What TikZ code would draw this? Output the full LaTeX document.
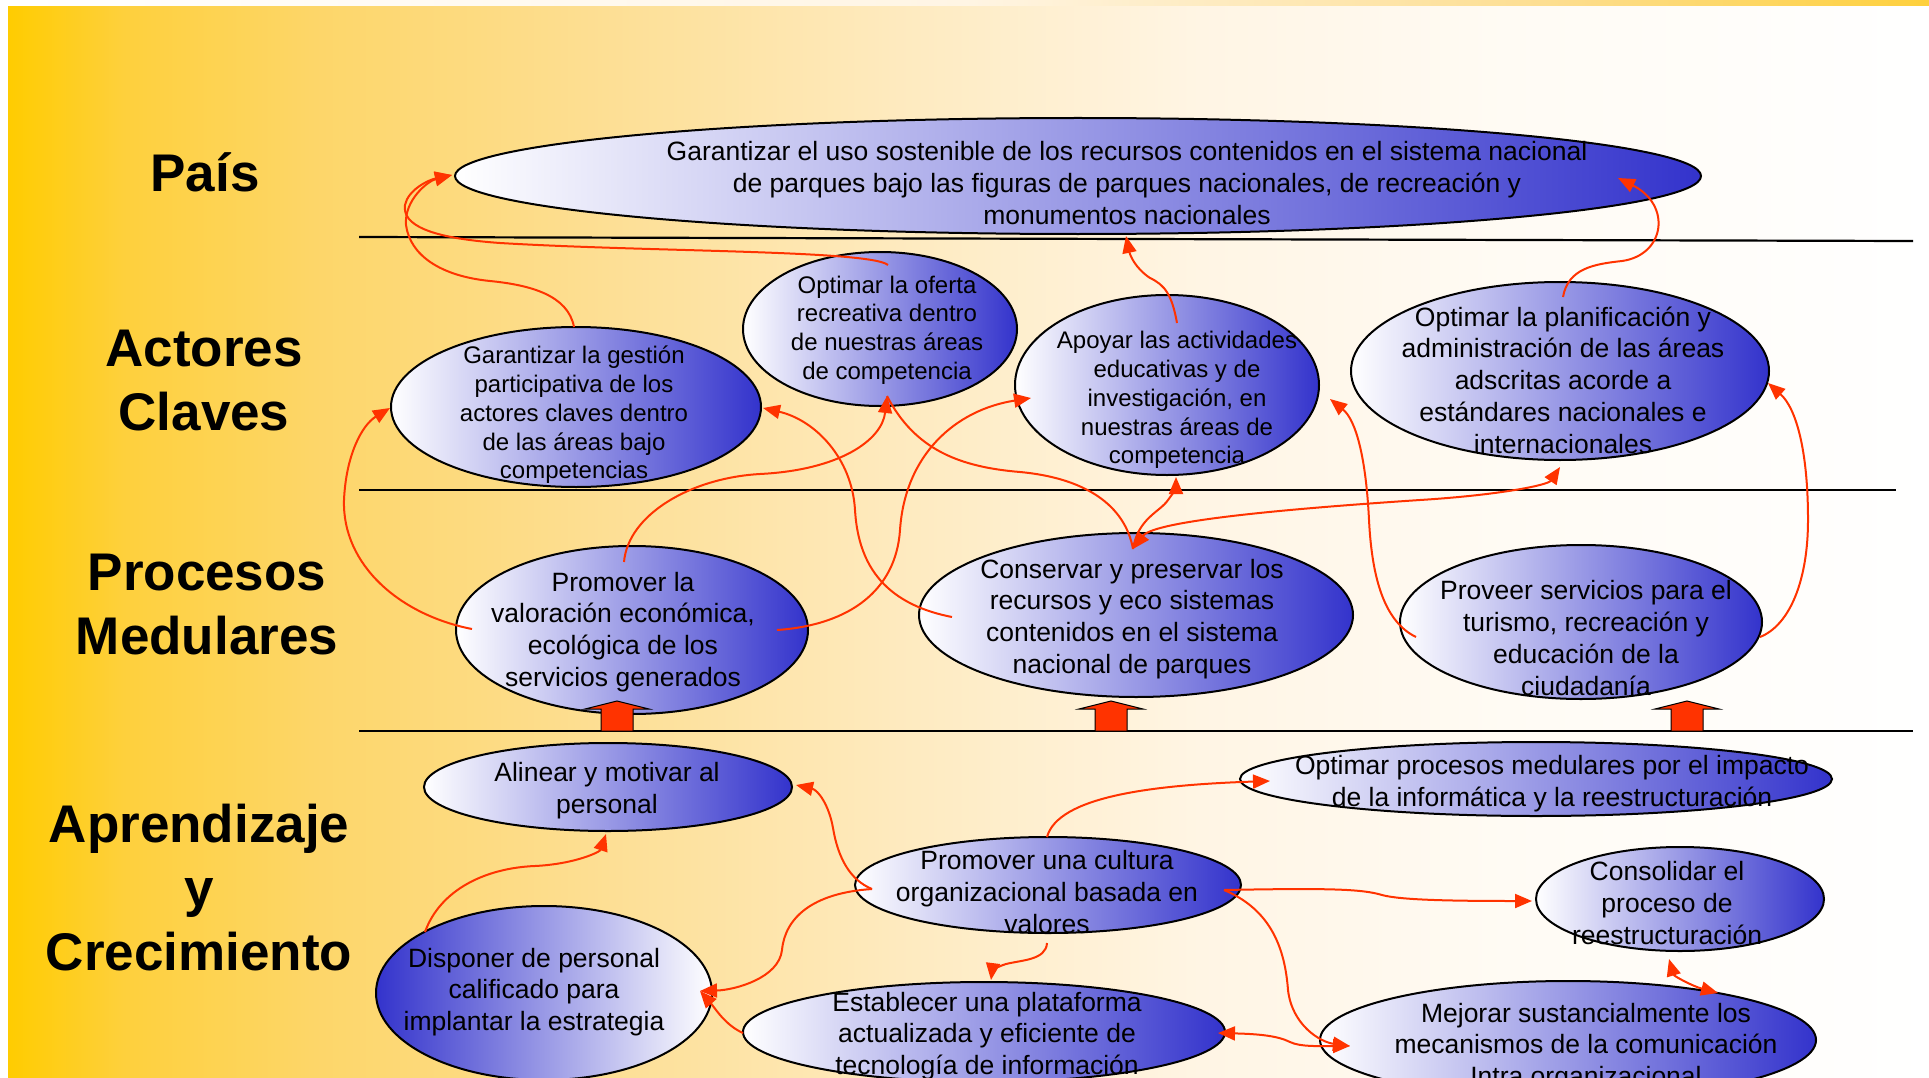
\documentclass[tikz,border=0pt]{standalone}
\usepackage{fontspec}
\setmainfont{Liberation Sans}
\usetikzlibrary{shapes.geometric,arrows.meta}

\definecolor{ellblue}{RGB}{51,51,204}
\definecolor{linkred}{RGB}{255,51,0}
\definecolor{bgA}{RGB}{255,204,0}
\definecolor{bgB}{RGB}{254,208,60}
\definecolor{bgC}{RGB}{253,214,105}
\definecolor{bgD}{RGB}{253,222,145}
\definecolor{bgE}{RGB}{254,234,190}
\definecolor{bgF}{RGB}{255,245,228}
\definecolor{bgG}{RGB}{255,251,244}

% page background: gold on the left fading to white on the right
\pgfdeclarehorizontalshading{bgfade}{100bp}{color(0bp)=(bgA); color(25bp)=(bgA);
  color(28bp)=(bgB); color(33bp)=(bgC); color(40bp)=(bgD); color(48bp)=(bgE);
  color(56bp)=(bgF); color(64bp)=(bgG); color(75bp)=(white); color(100bp)=(white)}
% thin band along the top edge, running the other way
\pgfdeclarehorizontalshading{topfade}{100bp}{color(0bp)=(white); color(25bp)=(white);
  color(50bp)=(bgF); color(65bp)=(bgD); color(75bp)=(bgB); color(100bp)=(bgB)}

\tikzset{
  goal/.style={ellipse, draw=black, line width=2pt, inner sep=0pt,
    left color=white, right color=ellblue},
  goalrev/.style={goal, left color=ellblue, right color=white},
  txt/.style={align=center, inner sep=0pt, font=\fontsize{26.5}{31.8}\selectfont},
  txts/.style={align=center, inner sep=0pt, font=\fontsize{24}{28.8}\selectfont},
  lane/.style={align=center, inner sep=0pt, font=\fontsize{53}{64}\selectfont\bfseries},
  divider/.style={draw=black, line width=2.2pt},
  link/.style={draw=linkred, line width=2pt, -{Triangle[length=17pt,width=14pt]}},
  linkboth/.style={draw=linkred, line width=2pt,
    {Triangle[length=17pt,width=14pt]}-{Triangle[length=17pt,width=14pt]}},
  linkplain/.style={draw=linkred, line width=2pt},
  pushup/.pic={
    \filldraw[fill=linkred, draw=black, line width=1pt]
      (-16,0) -- (-16,-22) -- (-32,-22) -- (0,-30) -- (32,-22) -- (16,-22) -- (16,0) -- cycle;
  }
}

\begin{document}
\begin{tikzpicture}[x=1pt,y=-1pt]
\useasboundingbox (0,0) rectangle (1929,1078);
\fill[white] (0,0) rectangle (1929,1078);
\shade[shading=bgfade] (8,6) rectangle (1929,1078);
\shade[shading=topfade] (0,0) rectangle (1929,6);

% lane dividers
\draw[divider] (359,237) -- (1913,241);
\draw[divider] (359,490) -- (1896,490);
\draw[divider] (359,731) -- (1913,731);

% lane titles
\node[lane] (lpais) at (205,172) {País};
\node[lane] (lactores) at (204,381) {Actores\\Claves};
\node[lane] (lprocesos) at (207,605) {Procesos\\Medulares};
\node[lane] (laprend) at (199,888) {Aprendizaje\\y\\Crecimiento};

% objectives
\node[goal, minimum width=1246, minimum height=116] (pais) at (1078,176) {};
\node[goal, minimum width=370, minimum height=160] (gest) at (576,407) {};
\node[goal, minimum width=274, minimum height=154] (ofer) at (880,329) {};
\node[goal, minimum width=304, minimum height=180] (apoy) at (1167,385) {};
\node[goal, minimum width=418, minimum height=178] (plan) at (1560,371) {};
\node[goal, minimum width=352, minimum height=168] (valo) at (632,630) {};
\node[goal, minimum width=434, minimum height=164] (cons) at (1136,615) {};
\node[goal, minimum width=362, minimum height=154] (prov) at (1581,622) {};
\node[goal, minimum width=368, minimum height=88] (alin) at (608,787) {};
\node[goalrev, minimum width=336, minimum height=174] (disp) at (544,993) {};
\node[goal, minimum width=386, minimum height=96] (cult) at (1048,885) {};
\node[goal, minimum width=592, minimum height=74] (optp) at (1536,779) {};
\node[goal, minimum width=288, minimum height=104] (conso) at (1680,899) {};
\node[goal, minimum width=482, minimum height=100] (esta) at (984,1032) {};
\node[goal, minimum width=496, minimum height=118] (mejo) at (1568,1040) {};

% push-up arrows from the learning lane
\pic at (617,731) {pushup};
\pic at (1111,731) {pushup};
\pic at (1687,731) {pushup};

% objective texts
\node[txt] (paisT) at (1127,183) {Garantizar el uso sostenible de los recursos contenidos en el sistema nacional\\de parques bajo las figuras de parques nacionales, de recreación y\\monumentos nacionales};
\node[txts] (gestT) at (574,415) {Garantizar la gestión\\participativa de los\\actores claves dentro\\de las áreas bajo\\competencias};
\node[txts] (oferT) at (887,330) {Optimar la oferta\\recreativa dentro\\de nuestras áreas\\de competencia};
\node[txts] (apoyT) at (1177,400) {Apoyar las actividades\\educativas y de\\investigación, en\\nuestras áreas de\\competencia};
\node[txt] (planT) at (1563,380) {Optimar la planificación y\\administración de las áreas\\adscritas acorde a\\estándares nacionales e\\internacionales};
\node[txt] (valoT) at (623,632) {Promover la\\valoración económica,\\ecológica de los\\servicios generados};
\node[txt] (consT) at (1132,619) {Conservar y preservar los\\recursos y eco sistemas\\contenidos en el sistema\\nacional de parques};
\node[txt] (provT) at (1586,638) {Proveer servicios para el\\turismo, recreación y\\educación de la\\ciudadanía};
\node[txt] (alinT) at (607,791) {Alinear y motivar al\\personal};
\node[txt] (dispT) at (534,992) {Disponer de personal\\calificado para\\implantar la estrategia};
\node[txt] (cultT) at (1047,892) {Promover una cultura\\organizacional basada en\\valores};
\node[txt] (optpT) at (1552,784) {Optimar procesos medulares por el impacto\\de la informática y la reestructuración};
\node[txt] (consoT) at (1667,903) {Consolidar el\\proceso de\\reestructuración};
\node[txt] (estaT) at (987,1036) {Establecer una plataforma\\actualizada y eficiente de\\tecnología de información};
\node[txt] (mejoT) at (1586,1047) {Mejorar sustancialmente los\\mecanismos de la comunicación\\Intra organizacional};

% connector end points
\coordinate (paisW) at (452,175);
\coordinate (paisS) at (1126,236);
\coordinate (paisE) at (1618,178);
\coordinate (gestN) at (574,327);
\coordinate (gestW) at (390,408);
\coordinate (gestE) at (763,408);
\coordinate (oferN) at (888,265);
\coordinate (oferS) at (887,396);
\coordinate (apoyN) at (1177,323);
\coordinate (apoyW) at (1031,398);
\coordinate (apoyE) at (1330,399);
\coordinate (apoyS) at (1176,477);
\coordinate (planN) at (1563,297);
\coordinate (planS) at (1560,467);
\coordinate (planE) at (1768,383);
\coordinate (valoW) at (472,629);
\coordinate (valoN) at (624,562);
\coordinate (valoE) at (777,630);
\coordinate (consW) at (952,617);
\coordinate (consN) at (1133,549);
\coordinate (provW) at (1416,637);
\coordinate (provE) at (1760,637);
\coordinate (alinS) at (606,834);
\coordinate (alinE) at (796,785);
\coordinate (dispN) at (425,932);
\coordinate (dispE) at (700,991);
\coordinate (cultW) at (872,889);
\coordinate (cultN) at (1047,837);
\coordinate (cultE) at (1224,890);
\coordinate (cultS) at (1047,943);
\coordinate (optpW) at (1270,781);
\coordinate (consoW) at (1532,901);
\coordinate (consoS) at (1669,959);
\coordinate (estaN) at (991,980);
\coordinate (estaW) at (743,1033);
\coordinate (estaE) at (1218,1033);
\coordinate (mejoW) at (1350,1046);
\coordinate (mejoN) at (1718,993);

% upper connectors
\draw[link] (gestN) .. controls (568,295) and (530,285) .. (490,281)
  .. controls (440,276) and (410,255) .. (406,225)
  .. controls (404,200) and (428,181) .. (paisW);
\draw[link] (oferN) .. controls (870,250) and (650,252) .. (500,243)
  .. controls (430,238) and (402,225) .. (405,205)
  .. controls (408,190) and (428,180) .. (paisW);
\draw[link] (apoyN) .. controls (1172,295) and (1165,285) .. (1150,278)
  .. controls (1135,268) and (1130,255) .. (paisS);
\draw[link] (planN) .. controls (1568,268) and (1595,264) .. (1622,261)
  .. controls (1665,255) and (1672,205) .. (paisE);
\draw[link] (valoW) .. controls (400,615) and (342,565) .. (344,500)
  .. controls (346,455) and (362,425) .. (gestW);
\draw[link] (valoN) .. controls (628,515) and (690,478) .. (760,474)
  .. controls (840,470) and (882,440) .. (oferS);
\draw[link] (valoE) .. controls (850,625) and (896,590) .. (900,530)
  .. controls (905,455) and (955,410) .. (apoyW);
\draw[link] (consW) .. controls (880,603) and (858,560) .. (855,510)
  .. controls (852,458) and (815,420) .. (gestE);
\draw[linkplain] (oferS) .. controls (915,450) and (960,467) .. (1020,472)
  .. controls (1085,478) and (1125,505) .. (consN);
\draw[link] (consN) .. controls (1138,518) and (1160,512) .. (1168,500)
  .. controls (1174,492) and (1176,488) .. (apoyS);
\draw[linkboth] (consN) .. controls (1155,520) and (1300,508) .. (1420,500)
  .. controls (1500,495) and (1548,485) .. (planS);
\draw[link] (provW) .. controls (1385,622) and (1372,580) .. (1369,520)
  .. controls (1366,458) and (1356,420) .. (apoyE);
\draw[link] (provE) .. controls (1790,625) and (1808,580) .. (1808,520)
  .. controls (1808,450) and (1796,408) .. (planE);

% learning and growth connectors
\draw[link] (dispN) .. controls (440,890) and (485,868) .. (535,866)
  .. controls (575,864) and (600,852) .. (alinS);
\draw[link] (cultW) .. controls (850,880) and (838,858) .. (833,828)
  .. controls (829,805) and (818,790) .. (alinE);
\draw[link] (cultW) .. controls (812,893) and (785,918) .. (782,950)
  .. controls (779,978) and (735,990) .. (dispE);
\draw[link] (estaW) .. controls (725,1025) and (715,1008) .. (dispE);
\draw[link] (cultN) .. controls (1058,797) and (1150,785) .. (optpW);
\draw[link] (cultE) .. controls (1330,888) and (1362,889) .. (1382,895)
  .. controls (1400,900) and (1450,901) .. (consoW);
\draw[link] (cultE) .. controls (1272,910) and (1285,950) .. (1288,990)
  .. controls (1292,1025) and (1320,1042) .. (mejoW);
\draw[link] (cultS) .. controls (1046,960) and (1022,960) .. (1006,964)
  .. controls (996,967) and (992,972) .. (estaN);
\draw[linkboth] (estaE) .. controls (1260,1034) and (1278,1036) .. (1290,1042)
  .. controls (1300,1047) and (1320,1046) .. (mejoW);
\draw[linkboth] (consoS) .. controls (1674,976) and (1692,986) .. (mejoN);
\end{tikzpicture}
\end{document}
